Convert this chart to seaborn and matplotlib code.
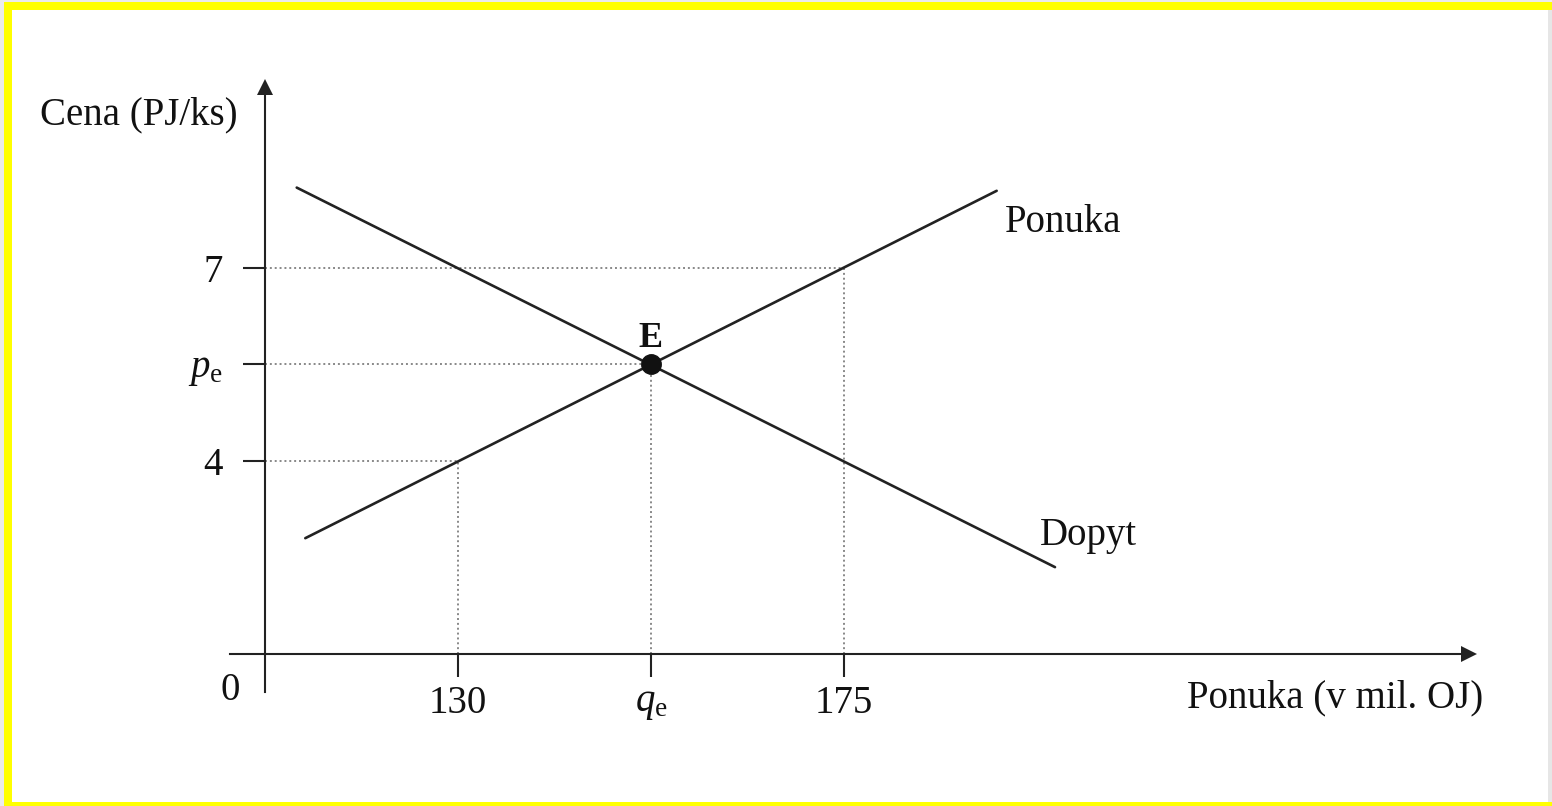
import matplotlib
matplotlib.use("Agg")
import matplotlib.pyplot as plt
from matplotlib.patches import Rectangle
import pandas as pd
import seaborn as sns

# Supply and demand curves (quantity in mil. OJ, price in PJ/ks)
supply_q = [112.2, 192.8]
supply_p = [2.8, 8.2]
demand_q = [111.2, 199.6]
demand_p = [8.25, 2.35]

# Equilibrium and reference points
eq_q, eq_p = 152.5, 5.5
ref_q = [130, 175]
ref_p = [4, 7]

x_ticks = [130, 152.5, 175]
x_labels = ["130", r"$q_{\mathrm{e}}$", "175"]
y_ticks = [4, 5.5, 7]
y_labels = ["4", r"$p_{\mathrm{e}}$", "7"]

axis_q0, axis_p0 = 107.5, 1.0

sns.set_theme(style="white")
plt.rcParams["font.family"] = ["Liberation Serif", "DejaVu Serif"]
plt.rcParams["mathtext.fontset"] = "custom"
plt.rcParams["mathtext.rm"] = "Liberation Serif"
plt.rcParams["mathtext.it"] = "Liberation Serif:italic"

W, H = 1552, 806
fig = plt.figure(figsize=(W / 100, H / 100), dpi=100)
fig.patch.set_facecolor("#ebebeb")
frame = dict(transform=fig.transFigure, edgecolor="none", zorder=-10)
fig.patches.append(Rectangle((4 / W, 0), 1 - 4 / W, 1 - 2 / H,
                             facecolor="#ffff00", **frame))
fig.patches.append(Rectangle((1548 / W, 4 / H), 4 / W, (796 - 4) / H,
                             facecolor="#e6e6e6", **frame))
fig.patches.append(Rectangle((12 / W, 4 / H), (1548 - 12) / W, (796 - 4) / H,
                             facecolor="white", **frame))

ax = fig.add_axes([0, 0, 1, 1])
ax.set_zorder(1)
ax.set_facecolor("none")
ax.set_xlim(76.61, 257.54)
ax.set_ylim(-1.363, 11.166)

ink = "#222222"
txt = "#111111"
fs = 28
curves = pd.concat([
    pd.DataFrame({"q": supply_q, "p": supply_p, "krivka": "Ponuka"}),
    pd.DataFrame({"q": demand_q, "p": demand_p, "krivka": "Dopyt"}),
])
sns.lineplot(data=curves, x="q", y="p", units="krivka", estimator=None,
             color=ink, linewidth=1.9, ax=ax, legend=False, zorder=3)

# Dotted guide lines to the axes
dot = dict(color="#888888", linestyle=(0, (1, 1.5)), linewidth=1.4, zorder=2)
for q, p in zip(ref_q + [eq_q], [ref_p[0], ref_p[1], eq_p]):
    ax.plot([axis_q0, q], [p, p], **dot)
    ax.plot([q, q], [axis_p0, p], **dot)

ax.plot([eq_q], [eq_p], marker="o", markersize=14, color=txt, zorder=5)
ax.text(eq_q, 5.9, "E", ha="center", va="center", fontsize=26,
        fontweight="bold", color=txt)

# Axes through the origin with arrowheads
for s in ["top", "right"]:
    ax.spines[s].set_visible(False)
ax.spines["left"].set_position(("data", axis_q0))
ax.spines["bottom"].set_position(("data", axis_p0))
ax.spines["left"].set_bounds(0.409, 9.75)
ax.spines["bottom"].set_bounds(103.42, 247.7)
for s in ["left", "bottom"]:
    ax.spines[s].set_color(ink)
    ax.spines[s].set_linewidth(1.5)
ax.plot([247.92], [axis_p0], marker=">", markersize=11, color=ink,
        clip_on=False, markeredgewidth=0)
ax.plot([axis_q0], [9.806], marker="^", markersize=11, color=ink,
        clip_on=False, markeredgewidth=0)

ax.set_xticks(x_ticks, x_labels)
ax.set_yticks(y_ticks, y_labels)
ax.tick_params(axis="x", direction="out", length=16.5, width=1.5, color=ink,
               pad=6, labelsize=fs, labelcolor=txt, bottom=True)
ax.tick_params(axis="y", direction="out", length=15.5, width=1.5, color=ink,
               pad=15, labelsize=fs, labelcolor=txt, left=True)
ax.set_xlabel("")
ax.set_ylabel("")
ax.grid(False)

ax.text(0.0896, 0.858, "Cena (PJ/ks)", transform=ax.transAxes, ha="center",
        va="center", fontsize=fs, color=txt)
ax.text(0.860, 0.1335, "Ponuka (v mil. OJ)", transform=ax.transAxes,
        ha="center", va="center", fontsize=fs, color=txt)
ax.text(103.42, 0.425, "0", ha="center", va="center", fontsize=fs, color=txt)
ax.text(200.5, 7.71, "Ponuka", ha="center", va="center", fontsize=fs,
        color=txt)
ax.text(203.45, 2.84, "Dopyt", ha="center", va="center", fontsize=fs,
        color=txt)

fig.savefig("out.png", dpi=100, facecolor=fig.get_facecolor())
